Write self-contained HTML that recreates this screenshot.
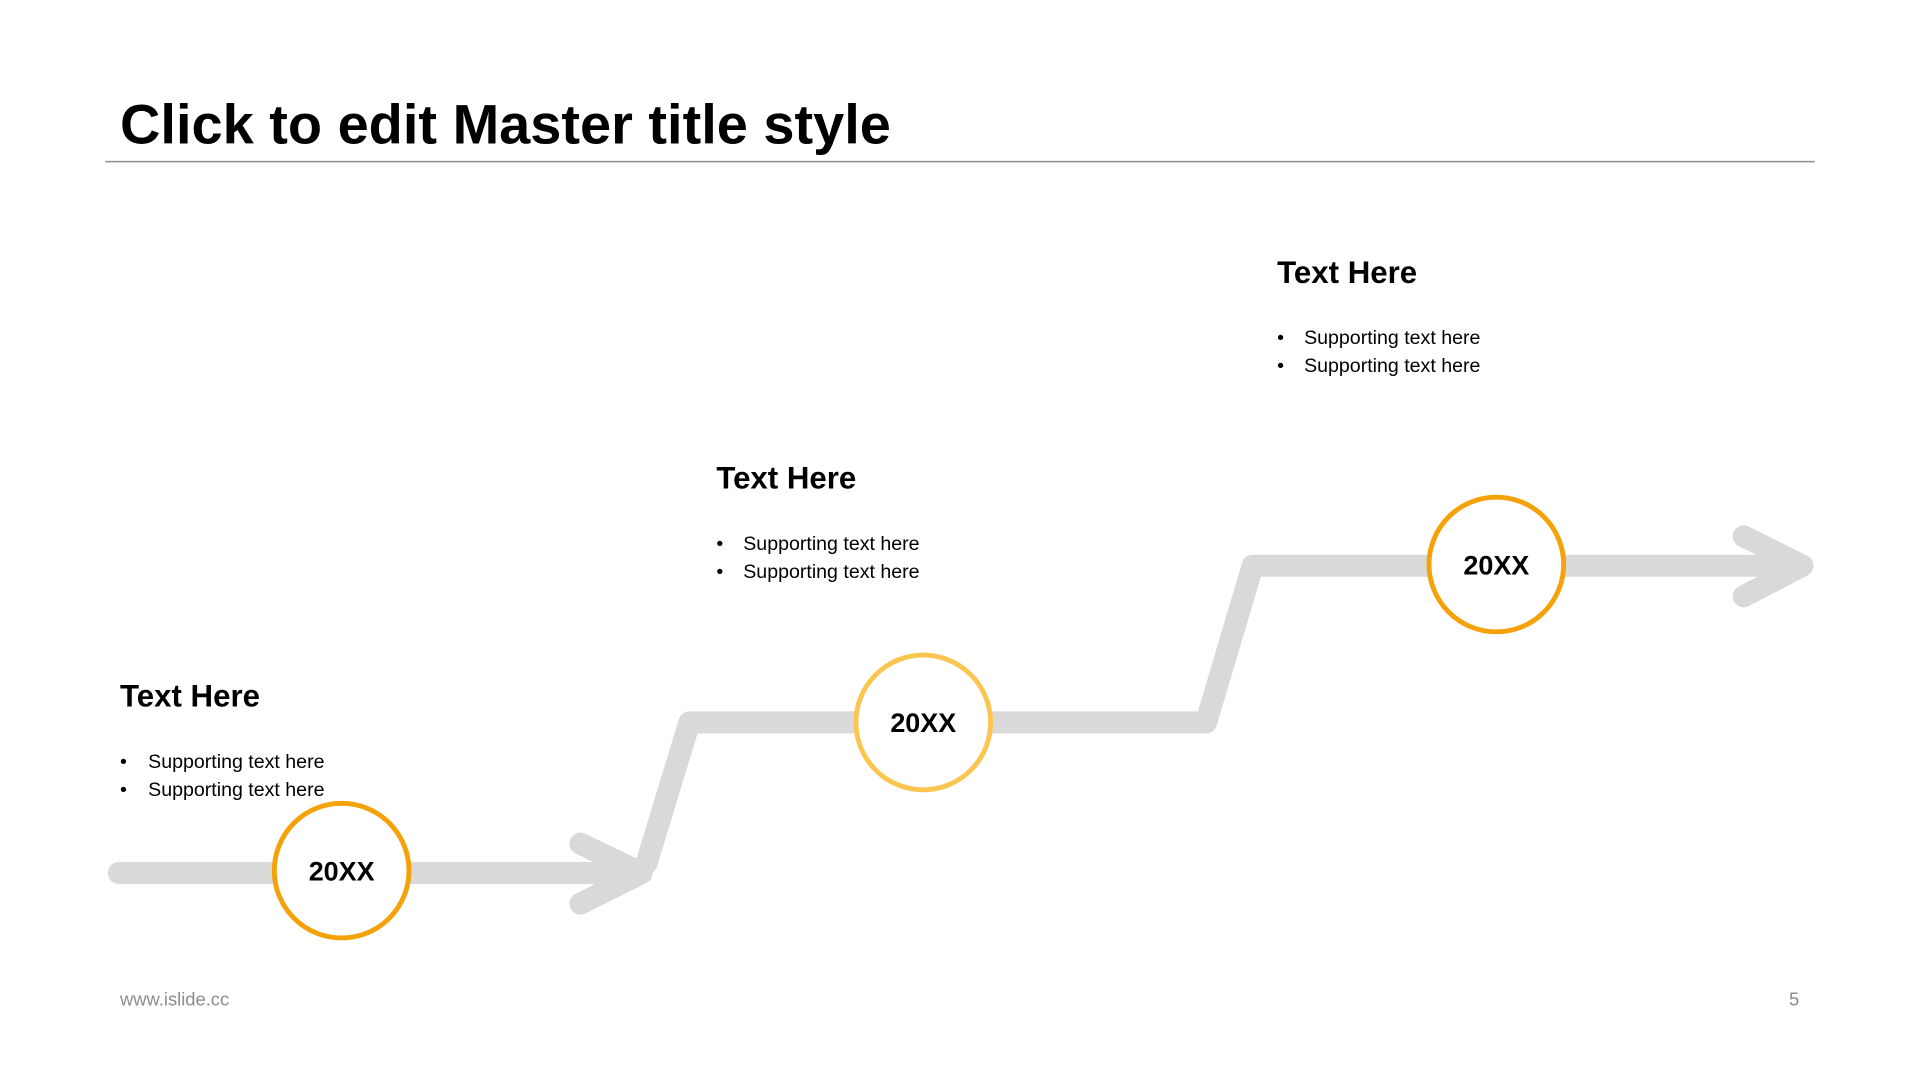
<!DOCTYPE html>
<html><head><meta charset="utf-8"><style>
html,body{margin:0;padding:0;background:#fff}
svg{display:block}
text{font-family:"Liberation Sans",Arial,sans-serif}
</style></head><body>
<svg width="1920" height="1080" viewBox="0 0 1568 882" xmlns="http://www.w3.org/2000/svg">
<rect width="1568" height="882" fill="#fff"/>
<text x="98" y="117" font-size="45.7" font-weight="bold" fill="#000">Click to edit Master title style</text>
<line x1="86" y1="132" x2="1482" y2="132" stroke="#8c8c8c" stroke-width="1.2"/>
<g fill="none" stroke="#d9d9d9" stroke-width="18" stroke-linecap="round" stroke-linejoin="round">
<polyline points="97,713 524,713"/>
<polyline points="474,689 524,713 474,738"/>
<polyline points="528,705 563,590 985,590 1023,462 1472,462"/>
<polyline points="1424,438 1472,462 1424,487"/>
</g>
<circle cx="279" cy="711" r="55" fill="#fff" stroke="#f5a20a" stroke-width="4"/>
<circle cx="754" cy="590" r="55" fill="#fff" stroke="#fbc650" stroke-width="4"/>
<circle cx="1222" cy="461" r="55" fill="#fff" stroke="#f5a20a" stroke-width="4"/>
<g font-size="22" font-weight="bold" text-anchor="middle" fill="#000">
<text x="279" y="719">20XX</text>
<text x="754" y="598">20XX</text>
<text x="1222" y="469">20XX</text>
</g>
<g font-size="25.5" font-weight="bold" fill="#000">
<text x="98" y="577">Text Here</text>
<text x="585" y="399">Text Here</text>
<text x="1043" y="231">Text Here</text>
</g>
<g font-size="16" fill="#000">
<text x="98" y="627">•</text><text x="121" y="627">Supporting  text here</text>
<text x="98" y="650">•</text><text x="121" y="650">Supporting  text here</text>
<text x="585" y="449">•</text><text x="607" y="449">Supporting  text here</text>
<text x="585" y="472">•</text><text x="607" y="472">Supporting  text here</text>
<text x="1043" y="281">•</text><text x="1065" y="281">Supporting  text here</text>
<text x="1043" y="304">•</text><text x="1065" y="304">Supporting  text here</text>
</g>
<text x="98" y="821" font-size="15" fill="#8c8c8c">www.islide.cc</text>
<text x="1461" y="821" font-size="15" fill="#8c8c8c">5</text>
</svg>
</body></html>
